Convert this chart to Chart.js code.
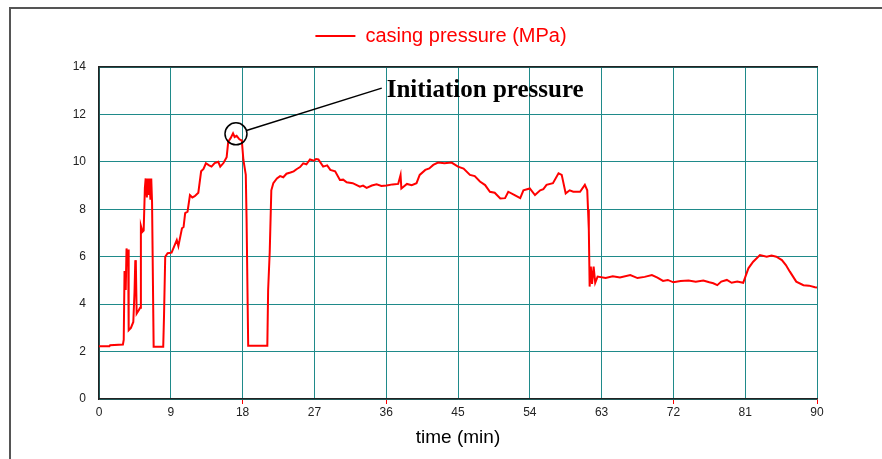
<!DOCTYPE html>
<html>
<head>
<meta charset="utf-8">
<script src="https://cdn.jsdelivr.net/npm/chart.js@4"></script>
<style>
    body { margin: 0; background: #fff; }
    #wrap { position: relative; width: 882px; height: 459px; }
    #frame {
        position: absolute; left: 9px; top: 7px; right: -4px; bottom: -4px;
        border-top: 2px solid #555; border-left: 2px solid #555;
        pointer-events: none;
    }
</style>
</head>
<body>
<div id="wrap">
    <canvas id="pressureChart"></canvas>
    <div id="frame"></div>
</div>
<script>
// time (min) and casing pressure (MPa)
const timeMin = [
    0, 1.3, 1.4, 3.0, 3.1, 3.2, 3.35, 3.45, 3.55, 3.65, 3.72, 4.0, 4.3, 4.45, 4.55, 4.62,
    4.72, 5.0, 5.15, 5.25, 5.45, 5.6, 5.75, 5.85, 6.0, 6.1, 6.2, 6.3, 6.45, 6.55, 6.65, 6.75,
    6.85, 8.05, 8.15, 8.3, 8.6, 9.1, 9.5, 9.75, 9.95, 10.1, 10.4, 10.6, 10.8, 11.1, 11.4, 11.7,
    12.0, 12.45, 12.8, 13.1, 13.4, 13.8, 14.1, 14.5, 14.95, 15.2, 15.6, 16.0, 16.2, 16.5, 16.8,
    17.0, 17.25, 17.6, 17.9, 18.1, 18.4, 18.5, 18.7, 21.1, 21.2, 21.4, 21.6, 21.85, 22.3, 22.7,
    23.1, 23.5, 24.0, 24.4, 24.8, 25.2, 25.6, 26.0, 26.45, 26.95, 27.2, 27.5, 28.1, 28.6, 29.0,
    29.6, 30.2, 30.6, 31.05, 31.8, 32.7, 33.1, 33.55, 34.2, 34.8, 35.4, 36.05, 36.8, 37.5, 37.8,
    37.9, 38.6, 39.2, 39.8, 40.2, 40.9, 41.4, 41.9, 42.5, 43.3, 44.2, 45.0, 45.7, 46.5, 47.1,
    47.75, 48.4, 49.0, 49.6, 50.3, 50.9, 51.3, 52.1, 52.8, 53.2, 54.0, 54.65, 55.3, 55.7, 56.1,
    56.9, 57.6, 58.0, 58.5, 59.0, 59.45, 60.3, 60.9, 61.2, 61.3, 61.4, 61.5, 61.65, 61.8, 62.0,
    62.2, 62.5, 63.5, 64.4, 65.3, 66.6, 67.5, 68.4, 69.3, 70.0, 70.7, 71.3, 72.0, 72.9, 73.9,
    74.8, 75.75, 76.5, 77.0, 77.5, 78.0, 78.7, 79.3, 80.0, 80.75, 81.4, 82.0, 82.85, 83.7, 84.3,
    84.9, 85.6, 86.1, 86.6, 87.4, 88.3, 89.0, 89.75, 90
];
const casingPressure = [
    2.22, 2.22, 2.27, 2.3, 2.5, 5.4, 4.6, 6.35, 5.6, 6.3, 2.9, 3.0, 3.25, 4.5, 5.85, 5.7,
    3.6, 3.75, 3.85, 7.3, 7.05, 7.1, 8.9, 9.3, 8.5, 9.3, 8.6, 9.3, 8.4, 9.3, 8.3, 8.3,
    2.2, 2.2, 3.5, 6.0, 6.15, 6.17, 6.5, 6.7, 6.45, 6.7, 7.2, 7.25, 7.84, 7.9, 8.6, 8.5,
    8.55, 8.7, 9.6, 9.7, 9.94, 9.85, 9.8, 9.95, 10.0, 9.8, 9.95, 10.2, 10.85, 11.0, 11.2,
    11.05, 11.1, 10.95, 10.9, 10.08, 9.45, 7.55, 2.25, 2.25, 4.6, 6.2, 8.8, 9.1, 9.3, 9.4,
    9.35, 9.5, 9.55, 9.6, 9.7, 9.78, 9.94, 9.9, 10.1, 10.05, 10.12, 10.1, 9.8, 9.85, 9.66,
    9.6, 9.24, 9.25, 9.14, 9.1, 8.95, 9.0, 8.9, 9.0, 9.05, 8.98, 9.0, 9.05, 9.07, 9.45,
    8.88, 9.07, 9.02, 9.1, 9.45, 9.66, 9.72, 9.87, 9.97, 9.94, 9.97, 9.8, 9.72, 9.45, 9.4,
    9.17, 9.02, 8.74, 8.7, 8.46, 8.47, 8.74, 8.6, 8.47, 8.8, 8.88, 8.6, 8.8, 8.85, 9.03,
    9.1, 9.52, 9.45, 8.67, 8.8, 8.74, 8.74, 9.03, 8.8, 7.97, 7.13, 4.74, 5.58, 4.85, 5.58,
    4.9, 5.16, 5.1, 5.18, 5.12, 5.23, 5.1, 5.15, 5.23, 5.12, 4.98, 5.02, 4.92, 4.98, 5.0,
    4.95, 5.0, 4.92, 4.88, 4.8, 4.95, 5.02, 4.9, 4.95, 4.9, 5.51, 5.79, 6.07, 6.0, 6.05,
    6.0, 5.86, 5.65, 5.37, 4.95, 4.8, 4.78, 4.71, 4.7
];
const xTicks = [0, 9, 18, 27, 36, 45, 54, 63, 72, 81, 90];
const yTicks = [0, 2, 4, 6, 8, 10, 12, 14];
const redTickMarks = [18, 36, 72, 90];

// peak marker and label, in data units
const peakMark = { t: 17.17, p: 11.18 };
const labelAnchor = { t: 36.06, p: 12.72 };
const leaderEnd = { t: 35.44, p: 13.11 };

const gridTeal = '#1f8a8a';

const initiationNote = {
    id: 'initiationNote',
    afterDatasetsDraw(chart) {
        const { ctx, scales: { x, y } } = chart;
        const cx = x.getPixelForValue(peakMark.t);
        const cy = y.getPixelForValue(peakMark.p);
        const ex = x.getPixelForValue(leaderEnd.t);
        const ey = y.getPixelForValue(leaderEnd.p);
        const r = 11;
        const ang = Math.atan2(ey - cy, ex - cx);

        ctx.save();
        ctx.strokeStyle = '#000';
        ctx.lineWidth = 1.5;
        ctx.beginPath();
        ctx.arc(cx, cy, r, 0, Math.PI * 2);
        ctx.stroke();
        ctx.beginPath();
        ctx.moveTo(cx + r * Math.cos(ang), cy + r * Math.sin(ang));
        ctx.lineTo(ex, ey);
        ctx.stroke();

        ctx.fillStyle = '#000';
        ctx.font = 'bold 25px "Liberation Serif", "Times New Roman", serif';
        ctx.textBaseline = 'alphabetic';
        ctx.fillText('Initiation pressure', x.getPixelForValue(labelAnchor.t), y.getPixelForValue(labelAnchor.p));
        ctx.restore();
    }
};

function initializePressureChart() {
    const ctx = document.getElementById('pressureChart');
    if (!ctx) return;

    new Chart(ctx, {
        type: 'line',
        data: {
            datasets: [{
                label: 'casing pressure (MPa)',
                data: timeMin.map((t, i) => ({ x: t, y: casingPressure[i] })),
                borderColor: '#ff0000',
                backgroundColor: '#ff0000',
                borderWidth: 2,
                pointRadius: 0,
                tension: 0,
                fill: false,
                xAxisID: 'x',
                yAxisID: 'y'
            }]
        },
        options: {
            responsive: true,
            maintainAspectRatio: false,
            animation: false,
            layout: {
                padding: { top: 4, bottom: 0, left: 65, right: 65 }
            },
            plugins: {
                legend: {
                    position: 'top',
                    labels: {
                        color: '#ff0000',
                        font: { family: '"Liberation Sans", Arial, sans-serif', size: 20 },
                        boxWidth: 40,
                        boxHeight: 0,
                        padding: 22
                    }
                },
                tooltip: { enabled: false }
            },
            scales: {
                x: {
                    type: 'linear',
                    position: 'bottom',
                    min: 0,
                    max: 90,
                    afterBuildTicks: (scale) => { scale.ticks = xTicks.map(v => ({ value: v })); },
                    afterFit: (scale) => { scale.height = 60; },
                    grid: {
                        color: gridTeal,
                        lineWidth: 1,
                        drawTicks: true,
                        tickLength: 5,
                        tickColor: (c) => redTickMarks.includes(c.tick && c.tick.value) ? '#ff0000' : 'rgba(0,0,0,0)'
                    },
                    border: { color: '#222', width: 1.5 },
                    ticks: {
                        color: '#222',
                        padding: 1,
                        maxRotation: 0,
                        font: { family: '"Liberation Sans", Arial, sans-serif', size: 12 }
                    },
                    title: {
                        display: true,
                        text: 'time (min)',
                        color: '#000',
                        padding: { top: 4, bottom: 10 },
                        font: { family: '"Liberation Sans", Arial, sans-serif', size: 19 }
                    }
                },
                xTop: {
                    type: 'linear',
                    position: 'top',
                    min: 0,
                    max: 90,
                    afterFit: (scale) => { scale.height = 11; },
                    grid: { display: false },
                    border: { color: '#222', width: 1.5 },
                    ticks: { display: false }
                },
                y: {
                    min: 0,
                    max: 14,
                    afterBuildTicks: (scale) => { scale.ticks = yTicks.map(v => ({ value: v })); },
                    afterFit: (scale) => { scale.width = 34; },
                    grid: { color: gridTeal, lineWidth: 1, drawTicks: false },
                    border: { color: '#222', width: 1.5 },
                    ticks: {
                        color: '#222',
                        padding: 13,
                        font: { family: '"Liberation Sans", Arial, sans-serif', size: 12 }
                    }
                }
            }
        },
        plugins: [initiationNote]
    });
}

document.addEventListener('DOMContentLoaded', initializePressureChart);
</script>
</body>
</html>
